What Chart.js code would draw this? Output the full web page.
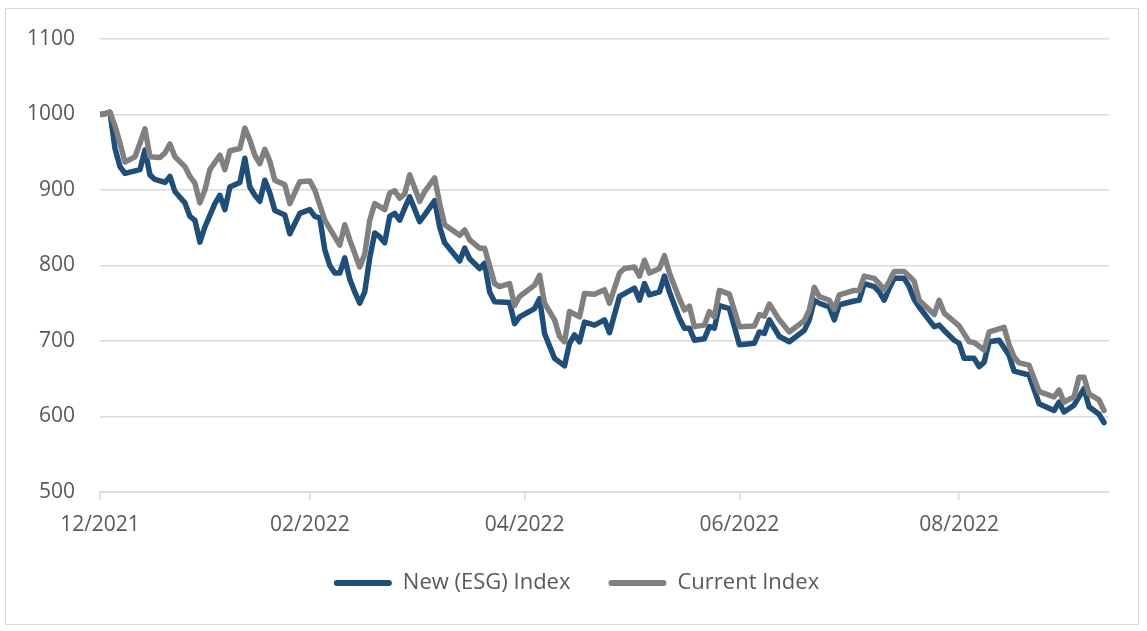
<!DOCTYPE html>
<html>
<head>
<meta charset="utf-8">
<script src="https://cdn.jsdelivr.net/npm/chart.js@4.4.1/dist/chart.umd.min.js"></script>
<style>
  html, body { margin: 0; padding: 0; background: #ffffff; }
  #wrap { position: relative; width: 1147px; height: 631px; }
  #frame { position: absolute; left: 5px; top: 8px; width: 1132px; height: 615px; border: 1px solid #d9d9d9; pointer-events: none; }
  canvas { position: absolute; left: 0; top: 0; }
</style>
</head>
<body>
<div id="wrap">
  <canvas id="c" width="1147" height="631"></canvas>
  <div id="frame"></div>
</div>
<script>
// x positions are trading-day numbers counted from 1 Dec 2021
const tickDays   = [0, 42, 85, 128, 172];
const tickLabels = ['12/2021', '02/2022', '04/2022', '06/2022', '08/2022'];
const lastDay = 202;

const seriesNames = ['New (ESG) Index', 'Current Index'];

const esgDays = [0,1,2,3,4,5,8,9,10,11,13,14,15,17,18,19,20,21,23,24,25,26,28,29,30,31,32,33,34,35,37,38,40,42,43,44,45,46,47,48,49,50,51,52,53,54,55,56,57,58,59,60,61,62,64,65,67,68,69,72,73,74,76,77,78,79,82,83,84,87,88,89,91,93,94,95,96,97,99,101,102,104,107,108,109,110,112,113,114,116,117,118,119,121,122,123,124,126,128,131,132,133,134,136,138,141,142,143,144,146,147,148,151,152,153,155,156,157,158,159,161,162,163,164,167,168,169,171,172,173,175,176,177,178,180,182,183,186,188,191,192,193,195,197,198,200,201];
const esgValues = [1000,1001,1003,955,931,922,927,953,920,914,910,918,898,883,865,860,831,851,882,893,874,904,910,942,904,893,885,913,896,873,867,842,869,874,865,863,821,800,790,790,810,782,765,750,765,810,843,838,830,865,869,860,876,891,858,867,886,851,830,806,823,809,796,803,765,752,751,723,732,743,756,710,677,667,697,708,699,725,721,728,711,759,770,754,776,761,765,786,765,730,717,717,701,703,719,717,747,743,695,697,712,710,728,706,699,714,728,754,750,745,728,748,753,754,776,772,765,754,770,783,783,772,755,745,719,721,714,701,697,677,677,666,672,699,701,681,660,655,617,608,619,606,615,637,613,603,592];

const curDays = [0,1,2,3,4,5,7,8,9,10,12,13,14,15,17,18,19,20,21,22,24,25,26,28,29,30,31,32,33,34,35,37,38,40,42,43,45,47,48,49,50,52,53,54,55,57,58,59,60,61,62,64,65,67,68,69,72,73,74,76,77,79,80,82,83,84,87,88,89,91,92,93,94,96,97,99,101,102,104,105,107,108,109,110,112,113,114,116,117,118,119,121,122,123,124,126,128,131,132,133,134,136,138,141,142,143,144,146,147,148,151,152,153,155,156,157,158,159,161,162,163,164,167,168,169,172,174,175,177,178,181,182,183,184,186,188,191,192,193,195,196,197,198,200,201];
const curValues = [1000,1001,1003,985,962,937,944,962,981,944,943,949,961,944,931,918,909,883,900,927,946,927,952,955,982,966,946,935,954,938,913,907,882,911,912,900,860,838,827,854,834,798,815,860,882,874,896,899,889,895,920,885,898,916,882,854,840,847,834,823,823,776,772,776,747,759,774,787,750,728,706,699,739,732,763,762,768,750,790,796,798,786,807,790,796,813,790,756,741,746,719,721,739,732,767,762,719,720,735,733,749,728,712,727,741,771,759,754,742,761,767,767,786,783,776,768,779,792,792,786,779,754,735,754,737,720,699,698,688,712,718,695,679,671,668,633,626,635,619,626,652,652,630,622,608];

const esgColor = '#1f4e79';
const curColor = '#808080';
const textColor = '#595959';
const gridColor = '#d9d9d9';
const fontFamily = "'Open Sans', 'Noto Sans', sans-serif";

const toPoints = (days, vals) => days.map((d, i) => ({ x: d, y: vals[i] }));

// shift the legend block so it is centred under the whole frame, as in the original
const legendShift = {
  id: 'legendShift',
  afterLayout(chart) {
    if (chart.legend) { chart.legend.left += 22; chart.legend.right += 22; }
  }
};

new Chart(document.getElementById('c'), {
  type: 'line',
  plugins: [legendShift],
  data: {
    datasets: [
      {
        label: seriesNames[0],
        data: toPoints(esgDays, esgValues),
        borderColor: esgColor,
        backgroundColor: esgColor,
        borderWidth: 5.5,
        pointRadius: 0,
        tension: 0,
        borderJoinStyle: 'round',
        borderCapStyle: 'round',
        order: 1
      },
      {
        label: seriesNames[1],
        data: toPoints(curDays, curValues),
        borderColor: curColor,
        backgroundColor: curColor,
        borderWidth: 5.5,
        pointRadius: 0,
        tension: 0,
        borderJoinStyle: 'round',
        borderCapStyle: 'round',
        order: 0
      }
    ]
  },
  options: {
    responsive: false,
    animation: false,
    layout: { padding: { left: 0, right: 38, top: 39, bottom: 27 } },
    plugins: {
      tooltip: { enabled: false },
      legend: {
        position: 'bottom',
        labels: {
          boxWidth: 58,
          boxHeight: 6,
          padding: 38,
          color: textColor,
          font: { family: fontFamily, size: 22 },
          generateLabels: (chart) => chart.data.datasets.map((ds, i) => ({
            text: ds.label,
            fillStyle: ds.borderColor,
            strokeStyle: ds.borderColor,
            lineWidth: 0,
            hidden: false,
            datasetIndex: i,
            fontColor: textColor,
            borderRadius: 3
          })),
          useBorderRadius: true,
          borderRadius: 3
        }
      }
    },
    scales: {
      x: {
        type: 'linear',
        min: 0,
        max: lastDay,
        afterBuildTicks: (scale) => { scale.ticks = tickDays.map(v => ({ value: v })); },
        afterFit: (scale) => { scale.height = 42; },
        ticks: {
          autoSkip: false,
          maxRotation: 0,
          padding: 12,
          color: textColor,
          font: { family: fontFamily, size: 21 },
          callback: (value) => {
            const k = tickDays.indexOf(value);
            return k >= 0 ? tickLabels[k] : '';
          }
        },
        grid: {
          drawOnChartArea: false,
          drawTicks: true,
          tickLength: 8,
          color: gridColor,
          lineWidth: 1.5
        },
        border: { display: true, color: gridColor, width: 1.5 }
      },
      y: {
        min: 500,
        max: 1100,
        afterFit: (scale) => { scale.width = 100; },
        ticks: {
          stepSize: 100,
          padding: 25,
          color: textColor,
          font: { family: fontFamily, size: 21 },
          callback: (value) => String(value)
        },
        grid: {
          color: gridColor,
          lineWidth: 1.5,
          drawTicks: false
        },
        border: { display: false }
      }
    }
  }
});
</script>
</body>
</html>
